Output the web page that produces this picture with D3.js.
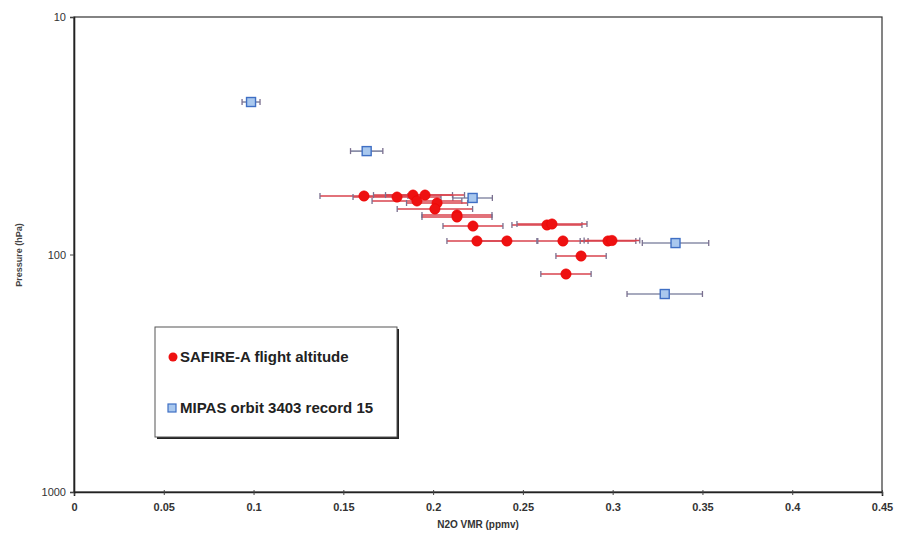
<!DOCTYPE html>
<html><head><meta charset="utf-8">
<script src="https://cdn.jsdelivr.net/npm/d3@7"></script>
<style>body{margin:0;background:#fff}</style></head>
<body><svg id="c" width="901" height="539"></svg>
<script>
const xTicks = [0, 0.05, 0.1, 0.15, 0.2, 0.25, 0.3, 0.35, 0.4, 0.45];
const xTickLabels = ["0", "0.05", "0.1", "0.15", "0.2", "0.25", "0.3", "0.35", "0.4", "0.45"];
const yTicks = [10, 100, 1000];
const yTickLabels = ["10", "100", "1000"];

const safireX   = [0.1615, 0.1799, 0.1888, 0.1910, 0.1955, 0.2022, 0.2010, 0.2133, 0.2133, 0.2222, 0.2634, 0.2662, 0.2244, 0.2411, 0.2723, 0.2974, 0.2996, 0.2824, 0.2740];
const safireP   = [56.7, 57.3, 56.2, 59.5, 56.2, 60.7, 64.3, 68.2, 69.5, 75.9, 75.1, 74.4, 87.7, 87.7, 87.7, 87.7, 87.3, 101.5, 120.8];
const safireErr = [0.0245, 0.0245, 0.022, 0.025, 0.022, 0.017, 0.021, 0.0195, 0.0195, 0.0167, 0.0195, 0.0195, 0.0167, 0.0167, 0.014, 0.0155, 0.0155, 0.014, 0.014];

const mipasX   = [0.0986, 0.163, 0.222, 0.335, 0.329];
const mipasP   = [22.8, 36.7, 57.8, 89.5, 146.7];
const mipasErr = [0.005, 0.009, 0.011, 0.0185, 0.021];

const seriesNames = ["SAFIRE-A flight altitude", "MIPAS orbit 3403 record 15"];

const svg = d3.select("#c");
const L = 74, R = 882, T = 17, B = 492;
const x = d3.scaleLinear().domain([0, 0.45]).range([L, R]);
const y = d3.scaleLog().domain([10, 1000]).range([T, B]);

// plot box
svg.append("rect").attr("x", L).attr("y", T).attr("width", R - L).attr("height", B - T)
  .attr("fill", "#fff").attr("stroke", "#333").attr("stroke-width", 1.2);

// axes
const xAxis = d3.axisBottom(x).tickValues(xTicks).tickSize(4).tickFormat((d, i) => xTickLabels[i]);
const gx = svg.append("g").attr("transform", `translate(0,${B})`).call(xAxis);
gx.select(".domain").attr("stroke", "#222").attr("stroke-width", 1.6);
gx.selectAll(".tick line").attr("stroke", "#444").attr("y1", -2).attr("y2", 3);
gx.selectAll("text").attr("font-family", "'Liberation Sans Narrow','Arial Narrow',sans-serif")
  .attr("font-weight", "bold").attr("font-size", 11).attr("fill", "#333").attr("dy", "1.1em");

const yAxis = d3.axisLeft(y).tickValues(yTicks).tickSize(4).tickFormat((d, i) => yTickLabels[i]);
const gy = svg.append("g").attr("transform", `translate(${L},0)`).call(yAxis);
gy.select(".domain").attr("stroke", "#222").attr("stroke-width", 1.6);
gy.selectAll(".tick line").attr("stroke", "#444");
gy.selectAll("text").attr("font-family", "Arial, 'Liberation Sans', sans-serif")
  .attr("font-size", 11).attr("fill", "#333").attr("x", -8);

svg.append("text").attr("x", 478).attr("y", 528).attr("text-anchor", "middle")
  .attr("font-family", "'Liberation Sans Narrow','Arial Narrow',sans-serif").attr("font-weight", "bold")
  .attr("font-size", 10).attr("fill", "#333").text("N2O VMR (ppmv)");
svg.append("text").attr("transform", "translate(22,255) rotate(-90)").attr("text-anchor", "middle")
  .attr("font-family", "Arial, 'Liberation Sans', sans-serif").attr("font-weight", "bold")
  .attr("font-size", 9).attr("fill", "#444").text("Pressure (hPa)");

// error bars helper
function errBars(xs, ps, es, color) {
  const g = svg.append("g");
  xs.forEach((v, i) => {
    const yy = y(ps[i]);
    g.append("line").attr("x1", x(v - es[i])).attr("x2", x(v + es[i])).attr("y1", yy).attr("y2", yy)
      .attr("stroke", color).attr("stroke-width", 1.6);
    [v - es[i], v + es[i]].forEach(e => {
      g.append("line").attr("x1", x(e)).attr("x2", x(e)).attr("y1", yy - 3).attr("y2", yy + 3)
        .attr("stroke", "#7a6f8f").attr("stroke-width", 1.3);
    });
  });
}
errBars(mipasX, mipasP, mipasErr, "#8a8ea8");
errBars(safireX, safireP, safireErr, "#d9434e");

// markers
svg.append("g").selectAll("circle").data(safireX).join("circle")
  .attr("cx", d => x(d)).attr("cy", (d, i) => y(safireP[i])).attr("r", 5.2)
  .attr("fill", "#ee1111").attr("stroke", "#e00").attr("stroke-width", 0.5);
svg.append("g").selectAll("rect").data(mipasX).join("rect")
  .attr("x", d => x(d) - 4.5).attr("y", (d, i) => y(mipasP[i]) - 4.5).attr("width", 9).attr("height", 9)
  .attr("fill", "#a9c8ee").attr("stroke", "#3f6fc4").attr("stroke-width", 1.4);

// legend
const lg = svg.append("g");
lg.append("rect").attr("x", 157).attr("y", 329).attr("width", 242).attr("height", 110).attr("fill", "#222");
lg.append("rect").attr("x", 155).attr("y", 327).attr("width", 242).attr("height", 110)
  .attr("fill", "#fff").attr("stroke", "#555").attr("stroke-width", 1);
lg.append("circle").attr("cx", 173).attr("cy", 357).attr("r", 4.5).attr("fill", "#ee1111");
lg.append("rect").attr("x", 168).attr("y", 404).attr("width", 8).attr("height", 8)
  .attr("fill", "#a9c8ee").attr("stroke", "#3f6fc4").attr("stroke-width", 1.2);
lg.selectAll("text.l").data(seriesNames).join("text").attr("class", "l")
  .attr("x", 180).attr("y", (d, i) => i === 0 ? 362 : 413)
  .attr("font-family", "Arial, 'Liberation Sans', sans-serif").attr("font-weight", "bold")
  .attr("font-size", 15).attr("fill", "#222").text(d => d);
</script></body></html>
